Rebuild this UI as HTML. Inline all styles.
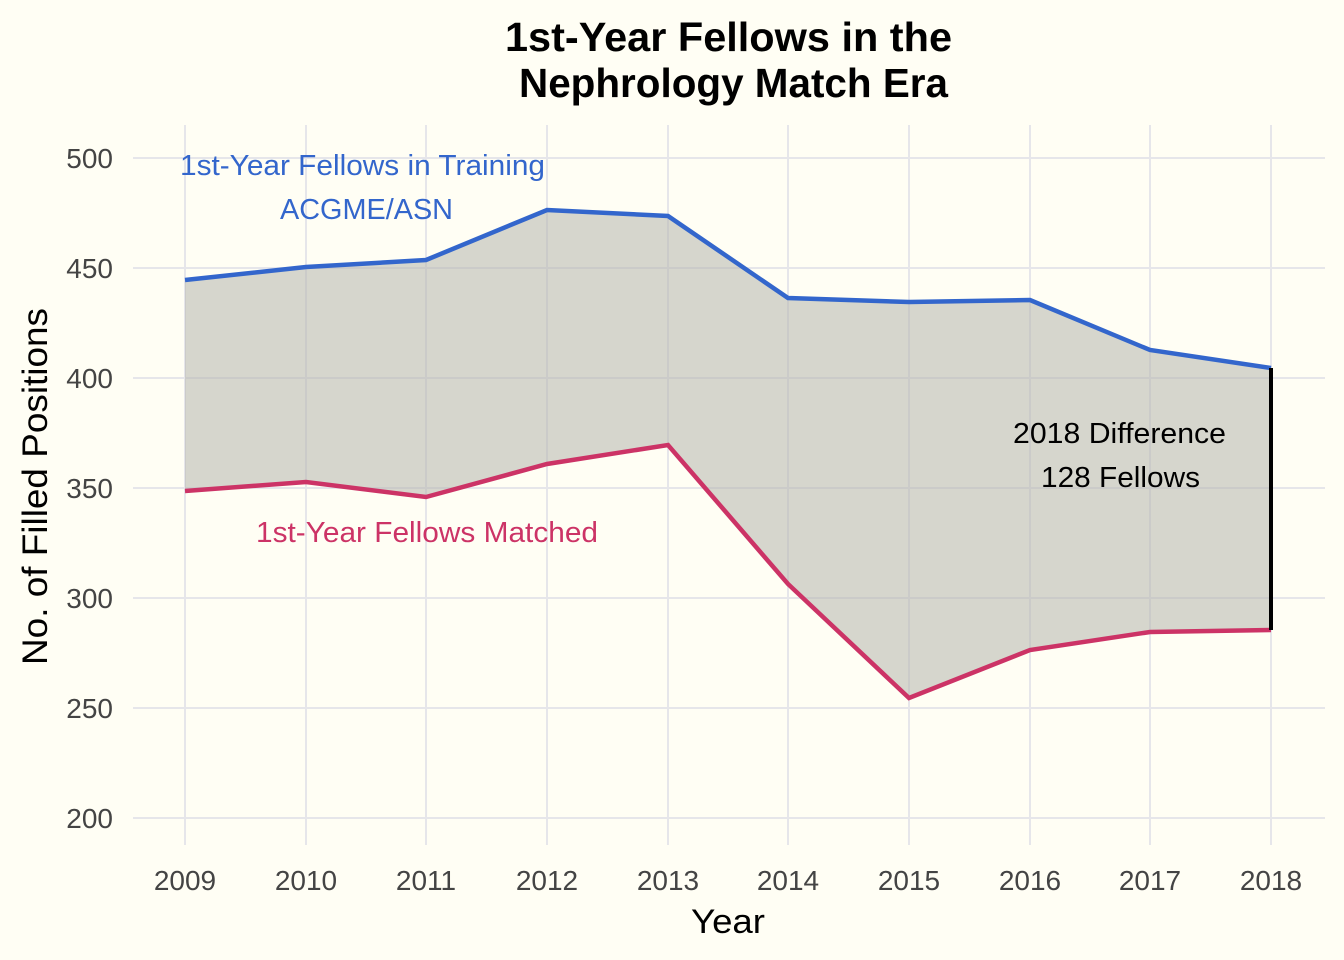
<!DOCTYPE html>
<html><head><meta charset="utf-8"><style>
body{margin:0;background:#fffef4;}
svg{display:block;font-family:"Liberation Sans",sans-serif;}
</style></head><body>
<svg width="1344" height="960" viewBox="0 0 1344 960">
<rect width="1344" height="960" fill="#fffef4"/>
<g stroke="#e6e6ea" stroke-width="2">
<line x1="133" x2="1325" y1="158" y2="158"/><line x1="133" x2="1325" y1="268" y2="268"/>
<line x1="133" x2="1325" y1="378" y2="378"/><line x1="133" x2="1325" y1="488" y2="488"/>
<line x1="133" x2="1325" y1="598" y2="598"/><line x1="133" x2="1325" y1="708" y2="708"/>
<line x1="133" x2="1325" y1="818" y2="818"/>
<line x1="185" x2="185" y1="125" y2="845"/><line x1="306" x2="306" y1="125" y2="845"/>
<line x1="426" x2="426" y1="125" y2="845"/><line x1="547" x2="547" y1="125" y2="845"/>
<line x1="668" x2="668" y1="125" y2="845"/><line x1="788" x2="788" y1="125" y2="845"/>
<line x1="909" x2="909" y1="125" y2="845"/><line x1="1030" x2="1030" y1="125" y2="845"/>
<line x1="1150" x2="1150" y1="125" y2="845"/><line x1="1271" x2="1271" y1="125" y2="845"/>
</g>
<polygon fill="#b4b4ad" fill-opacity="0.55" points="185,280 306,267 426,260 547,210 668,216 788,298 909,302 1030,300 1150,350 1271,368 1271,630 1150,632 1030,650 909,698 788,584 668,445 547,464 426,497 306,482 185,491"/>
<polyline fill="none" stroke="#3366cc" stroke-width="4.5" points="185,280 306,267 426,260 547,210 668,216 788,298 909,302 1030,300 1150,350 1271,368"/>
<polyline fill="none" stroke="#cc3366" stroke-width="4.5" points="185,491 306,482 426,497 547,464 668,445 788,584 909,698 1030,650 1150,632 1271,630"/>
<line x1="1271" x2="1271" y1="368" y2="630" stroke="#000" stroke-width="4"/>
<g font-size="28" fill="#444" text-anchor="end">
<text x="113" y="168">500</text><text x="113" y="278">450</text><text x="113" y="388">400</text>
<text x="113" y="498">350</text><text x="113" y="608">300</text><text x="113" y="718">250</text><text x="113" y="828">200</text>
</g>
<g font-size="28" fill="#444" text-anchor="middle">
<text x="185" y="890">2009</text><text x="306" y="890">2010</text><text x="426" y="890">2011</text>
<text x="547" y="890">2012</text><text x="668" y="890">2013</text><text x="788" y="890">2014</text>
<text x="909" y="890">2015</text><text x="1030" y="890">2016</text><text x="1150" y="890">2017</text>
<text x="1271" y="890">2018</text>
</g>
<text x="691" y="933" font-size="34" fill="#000" textLength="74" lengthAdjust="spacingAndGlyphs">Year</text>
<text transform="translate(47,665) rotate(-90)" font-size="35" fill="#000" textLength="357" lengthAdjust="spacingAndGlyphs">No. of Filled Positions</text>
<g font-weight="bold" font-size="41" fill="#000">
<text x="505" y="51" textLength="447" lengthAdjust="spacingAndGlyphs">1st-Year Fellows in the</text>
<text x="519" y="97" textLength="429" lengthAdjust="spacingAndGlyphs">Nephrology Match Era</text>
</g>
<g font-size="29">
<text x="180" y="175" fill="#3366cc" textLength="365" lengthAdjust="spacingAndGlyphs">1st-Year Fellows in Training</text>
<text x="280" y="219" fill="#3366cc" textLength="173" lengthAdjust="spacingAndGlyphs">ACGME/ASN</text>
<text x="256" y="542" fill="#cc3366" textLength="342" lengthAdjust="spacingAndGlyphs">1st-Year Fellows Matched</text>
<text x="1013" y="443" fill="#000" textLength="213" lengthAdjust="spacingAndGlyphs">2018 Difference</text>
<text x="1041" y="487" fill="#000" textLength="159" lengthAdjust="spacingAndGlyphs">128 Fellows</text>
</g>
</svg>
</body></html>
